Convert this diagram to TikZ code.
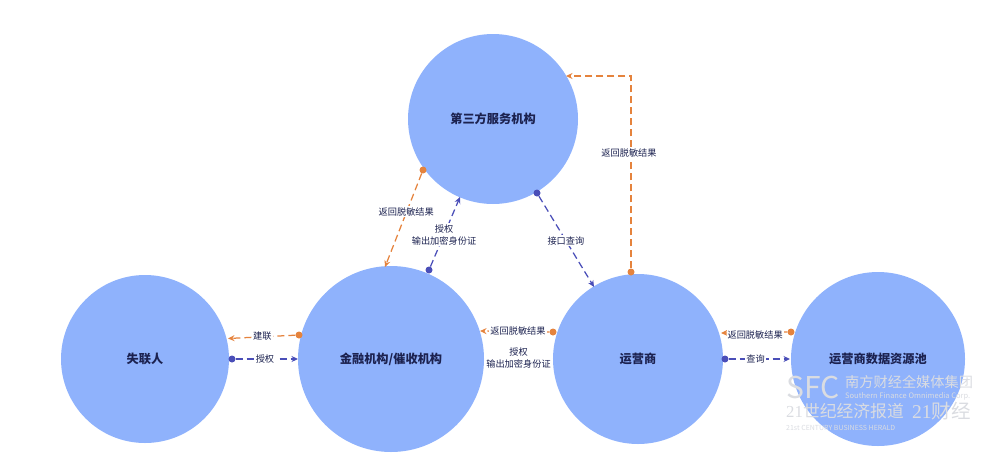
\documentclass[tikz,border=0pt]{standalone}
\usepackage{fontspec}
\setmainfont{Noto Sans CJK SC}
\newfontfamily\latinserif{Liberation Serif}
\usetikzlibrary{arrows.meta}
\definecolor{disc}{HTML}{8FB2FC}
\definecolor{orangeline}{HTML}{E5833D}
\definecolor{blueline}{HTML}{4A4EB8}
\definecolor{ink}{HTML}{1C2250}
\definecolor{mark}{HTML}{DADCE1}
\tikzset{
  party/.style={circle,fill=disc,draw=none,inner sep=0pt,text=ink,font=\fontsize{12.2}{14}\selectfont\bfseries},
  link/.style={line width=1.25pt,dash pattern=on 7pt off 4pt,-{Stealth[length=6.5pt,width=6pt]}},
  retlink/.style={link,draw=orangeline},
  reqlink/.style={link,draw=blueline},
  dotO/.style={circle,fill=orangeline,inner sep=0pt,minimum size=7pt},
  dotB/.style={circle,fill=blueline,inner sep=0pt,minimum size=7pt},
  lab/.style={fill=white,inner sep=1.5pt,text=ink,align=center,font=\fontsize{9.2}{12}\selectfont},
  wm/.style={inner sep=0pt,text=mark,anchor=west}
}
\begin{document}
\begin{tikzpicture}[x=1pt,y=-1pt]
\useasboundingbox (0,0) rectangle (1000,453);
\node[party,minimum size=170pt] (third) at (493,119) {第三方服务机构};
\node[party,minimum size=168pt] (lost) at (145,359) {失联人};
\node[party,minimum size=186pt] (fin) at (391,359) {金融机构/催收机构};
\node[party,minimum size=170pt] (op) at (638,359) {运营商};
\node[party,minimum size=174pt] (pool) at (878,359) {运营商数据资源池};

% endpoints
\node[dotO] (a1) at (299,335) {};
\coordinate (a2) at (228,338.5);
\node[dotB] (b1) at (232,359) {};
\coordinate (b2) at (298,359);
\node[dotO] (c1) at (423,170) {};
\coordinate (c2) at (385,267);
\node[dotB] (d1) at (429,270) {};
\coordinate (d2) at (460,197);
\node[dotB] (e1) at (537,193) {};
\coordinate (e2) at (594,287);
\node[dotO] (f1) at (631,272) {};
\coordinate (f2) at (631,76);
\coordinate (f3) at (566,76);
\node[dotO] (g1) at (553,332) {};
\coordinate (g2) at (480,331);
\coordinate (h1) at (552,358);
\coordinate (h2) at (485,358);
\node[dotO] (i1) at (791,332) {};
\coordinate (i2) at (721,333);
\node[dotB] (j1) at (725,359) {};
\coordinate (j2) at (790,359);

\draw[retlink] (a1) -- node[lab,pos=.52,xshift=2pt,yshift=1pt] (la) {建联} (a2);
\draw[reqlink] (b1) -- node[lab,pos=.47] (lb) {授权} (b2);
\draw[retlink] (c1) -- node[lab,pos=.42,yshift=1pt] (lc) {返回脱敏结果} (c2);
\draw[reqlink] (d1) -- node[lab,pos=.46] (ld) {授权\\输出加密身份证} (d2);
\draw[reqlink] (e1) -- node[lab,pos=.49] (le) {接口查询} (e2);
\draw[retlink] (f1) -- node[lab,pos=.615,xshift=-2pt,yshift=-3pt] (lf) {返回脱敏结果} (f2) -- (f3);
\draw[retlink] (g1) -- node[lab,pos=.48,xshift=2pt,inner sep=1pt] (lg) {返回脱敏结果} (g2);
\draw[draw=blueline,line width=1.25pt,dash pattern=on 7pt off 4pt] (h1) -- node[lab,pos=.5] (lh) {授权\\输出加密身份证} (h2);
\draw[retlink] (i1) -- node[lab,pos=.5,xshift=1pt,yshift=-2pt,inner sep=.8pt] (li) {返回脱敏结果} (i2);
\draw[reqlink] (j1) -- node[lab,pos=.44] (lj) {查询} (j2);

% watermark
\node[wm,font=\fontsize{30}{30}\selectfont] (w1) at (786,387) {SFC};
\node[wm,font=\fontsize{14.2}{14}\selectfont] (w2) at (845,382) {南方财经全媒体集团};
\node[wm,font=\fontsize{7.5}{8}\selectfont] (w3) at (845,396) {Southern Finance Omnimedia Corp.};
\node[wm,font=\fontsize{16.8}{16}\selectfont] (w4) at (786,411) {{\latinserif 21}世纪经济报道};
\node[wm,font=\fontsize{19.5}{18}\selectfont] (w5) at (912,411) {{\latinserif 21}财经};
\node[wm,font=\fontsize{7}{7}\selectfont] (w6) at (786,428) {21st CENTURY BUSINESS HERALD};
\end{tikzpicture}
\end{document}
